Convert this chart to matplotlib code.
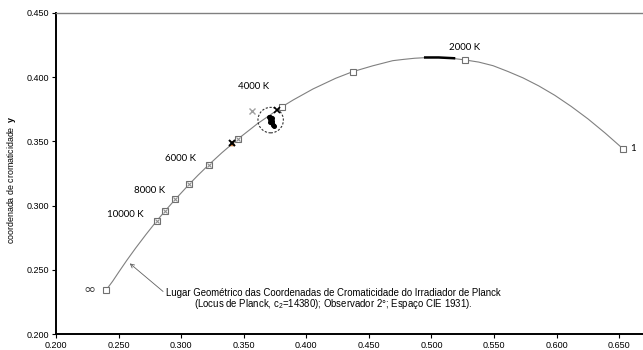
import matplotlib
matplotlib.use("Agg")
import matplotlib.pyplot as plt
from matplotlib.patches import Ellipse

locus_T = [1000, 1100, 1200, 1300, 1400, 1500, 1600, 1700, 1800, 1900, 2000, 2100, 2200,
           2300, 2400, 2500, 2600, 2800, 3000, 3200, 3500, 3800, 4000, 4500, 5000, 5500,
           6000, 6500, 7000, 8000, 9000, 10000, 12000, 15000, 20000, 30000, 50000, "inf"]
locus_x = [0.6528, 0.6388, 0.6251, 0.6117, 0.5985, 0.5857, 0.5732, 0.5611, 0.5492, 0.5378,
           0.5267, 0.5160, 0.5058, 0.4960, 0.4866, 0.4776, 0.4690, 0.4530, 0.4369, 0.4234,
           0.4053, 0.3894, 0.3805, 0.3608, 0.3451, 0.3325, 0.3221, 0.3135, 0.3064, 0.2952,
           0.2869, 0.2807, 0.2719, 0.2637, 0.2565, 0.2501, 0.2453, 0.2399]
locus_y = [0.3444, 0.3564, 0.3674, 0.3771, 0.3858, 0.3931, 0.3993, 0.4043, 0.4088, 0.4116,
           0.4133, 0.4146, 0.4152, 0.4151, 0.4146, 0.4137, 0.4127, 0.4087, 0.4041, 0.3990,
           0.3907, 0.3821, 0.3768, 0.3636, 0.3516, 0.3411, 0.3318, 0.3237, 0.3166, 0.3048,
           0.2956, 0.2884, 0.2776, 0.2671, 0.2574, 0.2483, 0.2413, 0.2342]

# square markers
mark_x = [0.6528, 0.5267, 0.4369, 0.3805, 0.3451, 0.3221, 0.3064, 0.2952, 0.2869, 0.2807, 0.2399]
mark_y = [0.3444, 0.4133, 0.4041, 0.3768, 0.3516, 0.3318, 0.3166, 0.3048, 0.2956, 0.2884, 0.2342]
# gray crosses inside the lower squares
cross_x = [0.3451, 0.3221, 0.3064, 0.2952, 0.2869, 0.2807]
cross_y = [0.3516, 0.3318, 0.3166, 0.3048, 0.2956, 0.2884]

# temperature labels
lab_text = ["10000 K", "8000 K", "6000 K", "4000 K", "2000 K"]
lab_x = [0.2551, 0.2745, 0.2998, 0.3578, 0.5267]
lab_y = [0.2933, 0.3117, 0.3363, 0.3928, 0.4232]

# measured points
cluster_x = [0.3700, 0.3712, 0.3722, 0.3708, 0.3716, 0.3726, 0.3712, 0.3722, 0.3732, 0.3738]
cluster_y = [0.3690, 0.3688, 0.3680, 0.3672, 0.3665, 0.3660, 0.3650, 0.3640, 0.3628, 0.3620]
gray_x_pt = (0.3565, 0.3735)
black_x_pt = (0.3765, 0.3745)
star_pt = (0.3410, 0.3488)

# thick segment near top
seg_x = [0.4950, 0.5058, 0.5180]
seg_y = [0.4152, 0.4152, 0.4146]

xticks = [0.20, 0.25, 0.30, 0.35, 0.40, 0.45, 0.50, 0.55, 0.60, 0.65]
yticks = [0.20, 0.25, 0.30, 0.35, 0.40, 0.45]

plt.rcParams['mathtext.fontset'] = 'custom'
plt.rcParams['mathtext.bf'] = 'Liberation Sans:bold'
plt.rcParams['mathtext.rm'] = 'Liberation Sans'

fig = plt.figure(figsize=(6.43, 3.5), dpi=100)
ax = fig.add_axes([0.0871, 0.0449, 0.9129, 0.9188])
ax.set_xlim(0.2, 0.669)
ax.set_ylim(0.2, 0.45)

ax.plot(locus_x, locus_y, color='#808080', lw=0.8, zorder=2)
ax.plot(seg_x, seg_y, color='black', lw=1.8, zorder=3)
ax.plot(mark_x, mark_y, ls='none', marker='s', ms=4.2, mfc='white', mec='#707070', mew=0.8, zorder=4)
ax.plot(cross_x, cross_y, ls='none', marker='x', ms=3.5, mec='#909090', mew=0.8, zorder=5)

ax.plot(cluster_x, cluster_y, ls='none', marker='o', ms=2.6, color='black', zorder=6)
ax.plot(*gray_x_pt, ls='none', marker='x', ms=4.5, mec='#a0a0a0', mew=1.0, zorder=6)
ax.plot(*black_x_pt, ls='none', marker='x', ms=4.5, mec='black', mew=1.2, zorder=6)
ax.plot(*star_pt, ls='none', marker='^', ms=3, color='#d08040', zorder=6)
ax.plot(*star_pt, ls='none', marker='x', ms=4.5, mec='black', mew=1.4, zorder=7)

ax.add_patch(Ellipse((0.3715, 0.3665), 0.0203, 0.0198, fill=False, ls=(0, (2, 1.5)),
                     ec='#303030', lw=0.8, zorder=5))

for t, x, y in zip(lab_text, lab_x, lab_y):
    ax.text(x, y, t, fontsize=7, family='Lato', ha='center', va='center')
ax.text(0.6590, 0.3448, "1", fontsize=7, family='Lato', ha='left', va='center')
ax.text(0.2265, 0.2346, "∞", fontsize=10.5, family='DejaVu Sans', ha='center', va='center', color='#404040')

ax.annotate("Lugar Geométrico das Coordenadas de Cromaticidade do Irradiador de Planck\n"
            "(Locus de Planck, c$_2$=14380); Observador 2°; Espaço CIE 1931).",
            xy=(0.2589, 0.2551), xytext=(0.4215, 0.2270),
            fontsize=6.9, family='Liberation Sans', ha='center', va='center', linespacing=0.9,
            arrowprops=dict(arrowstyle='->', color='#606060', lw=0.6,
                            shrinkA=0, shrinkB=0, relpos=(0.0, 0.75)))

ax.set_xticks(xticks)
ax.set_yticks(yticks)
ax.set_xticklabels([f"{v:.3f}" for v in xticks], fontsize=6.5, family='Liberation Sans')
ax.set_yticklabels([f"{v:.3f}" for v in yticks], fontsize=6.5, family='Liberation Sans')
ax.tick_params(direction='out', length=3, width=0.8, pad=2)
ax.spines['right'].set_visible(False)
ax.spines['top'].set_color('#808080')
ax.spines['top'].set_linewidth(1.0)
ax.spines['left'].set_linewidth(1.4)
ax.spines['bottom'].set_linewidth(1.4)

fig.text(0.018, 0.487, "coordenada de cromaticidade  $\\mathbf{y}$", rotation=90,
         fontsize=6.4, family='Liberation Sans', ha='center', va='center')

fig.savefig("out.png", dpi=100)
